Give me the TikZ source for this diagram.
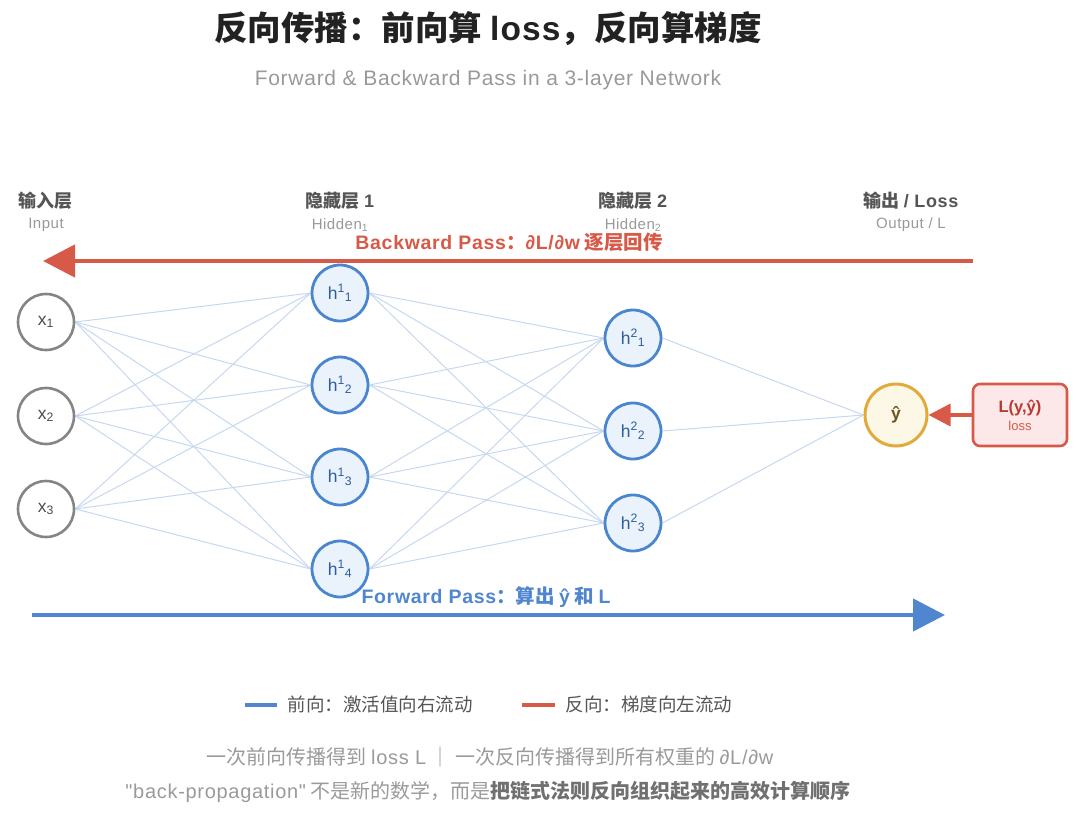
\documentclass[tikz,border=0pt]{standalone}
\usepackage{fontspec}
\setmainfont{Noto Sans CJK SC}
\newfontfamily\lat{Liberation Sans}[LetterSpace=3.5]
\newfontfamily\latn{Liberation Sans}
\newcommand{\LL}[1]{{\lat #1}}
\usetikzlibrary{arrows.meta,backgrounds}
\definecolor{nblue}{HTML}{4A86D0}
\definecolor{hfill}{HTML}{EAF2FC}
\definecolor{htext}{HTML}{2F5C9C}
\definecolor{edge}{HTML}{C6D8F0}
\definecolor{ngray}{HTML}{858585}
\definecolor{gold}{HTML}{E2AA3C}
\definecolor{ofill}{HTML}{FDF7E6}
\definecolor{otext}{HTML}{6B5524}
\definecolor{red}{HTML}{D65A47}
\definecolor{lfill}{HTML}{FCE8E8}
\definecolor{ltext}{HTML}{B83A30}
\definecolor{fblue}{HTML}{4F86CF}
\definecolor{titlec}{HTML}{222222}
\definecolor{labc}{HTML}{555555}
\definecolor{subc}{HTML}{999999}
\definecolor{footc}{HTML}{9A9A9A}
\definecolor{footb}{HTML}{707070}
\tikzset{
  inp/.style={circle, draw=ngray, line width=2.6, fill=white, minimum size=56, inner sep=0,
    font=\latn\fontsize{17.5}{17}\selectfont, text=labc!90!black},
  hid/.style={circle, draw=nblue, line width=2.8, fill=hfill, minimum size=56, inner sep=0,
    font=\latn\fontsize{17.5}{17}\selectfont, text=htext},
  outn/.style={circle, draw=gold, line width=3, fill=ofill, minimum size=62, inner sep=0,
    font=\latn\fontsize{17.5}{17}\selectfont\bfseries, text=otext},
  lossbox/.style={draw=red, line width=2.6, fill=lfill, rounded corners=7, minimum width=94,
    minimum height=62, inner sep=0, align=center},
  wedge/.style={draw=edge, line width=1},
  layt/.style={font=\fontsize{18}{18}\selectfont\bfseries, text=labc},
  lays/.style={font=\lat\fontsize{15}{15}\selectfont, text=subc},
  bigarrow/.style={line width=4.5, -{Triangle[length=32pt,width=32pt]}},
}
\begin{document}
\begin{tikzpicture}[x=1pt,y=-1pt]
\useasboundingbox (0,0) rectangle (1080,814);
% title
\node[font=\fontsize{33.5}{36}\selectfont\bfseries, text=titlec] (title) at (488,29) {反向传播：前向算 \LL{loss}，反向算梯度};
\node[font=\lat\fontsize{21}{22}\selectfont, text=subc] (subtitle) at (488,80) {Forward \& Backward Pass in a 3-layer Network};
% layer labels
\node[layt] (l0) at (46,201) {输入层};
\node[lays] (s0) at (46,225) {Input};
\node[layt] (l1) at (340,201) {隐藏层 \LL{1}};
\node[lays] (s1) at (340,225) {Hidden\textsubscript{1}};
\node[layt] (l2) at (633,201) {隐藏层 \LL{2}};
\node[lays] (s2) at (633,225) {Hidden\textsubscript{2}};
\node[layt] (l3) at (911,201) {输出 \LL{/ Loss}};
\node[lays] (s3) at (911,225) {Output / L};
% nodes
\node[inp] (x1) at (46,322) {x\textsubscript{1}};
\node[inp] (x2) at (46,416) {x\textsubscript{2}};
\node[inp] (x3) at (46,509) {x\textsubscript{3}};
\node[hid] (h11) at (340,293) {h\textsuperscript{1}\textsubscript{1}};
\node[hid] (h12) at (340,385) {h\textsuperscript{1}\textsubscript{2}};
\node[hid] (h13) at (340,477) {h\textsuperscript{1}\textsubscript{3}};
\node[hid] (h14) at (340,569) {h\textsuperscript{1}\textsubscript{4}};
\node[hid] (h21) at (633,338) {h\textsuperscript{2}\textsubscript{1}};
\node[hid] (h22) at (633,431) {h\textsuperscript{2}\textsubscript{2}};
\node[hid] (h23) at (633,523) {h\textsuperscript{2}\textsubscript{3}};
\node[outn] (y) at (896,415) {ŷ};
\node[lossbox] (loss) at (1020,415) {{\latn\fontsize{16.5}{18}\selectfont\bfseries\color{ltext}L(y,ŷ)}\\[4pt]{\latn\fontsize{13}{14}\selectfont\color{red}loss}};
% edges
\begin{scope}[on background layer]
\foreach \a in {x1,x2,x3}{\foreach \b in {h11,h12,h13,h14}{\draw[wedge] (\a.east) -- (\b.west);}}
\foreach \a in {h11,h12,h13,h14}{\foreach \b in {h21,h22,h23}{\draw[wedge] (\a.east) -- (\b.west);}}
\foreach \a in {h21,h22,h23}{\draw[wedge] (\a.east) -- (y.west);}
\end{scope}
\draw[line width=3.5, -{Triangle[length=22pt,width=22pt]}, color=red] (loss.west) -- (y.east);
% backward arrow
\coordinate (bs) at (973,261);
\coordinate (be) at (43,261);
\draw[bigarrow, color=red] (bs) -- (be);
\node[font=\fontsize{19.5}{19}\selectfont\bfseries, text=red] (blab) at (509,242) {\LL{Backward Pass}：\LL{∂L/∂w} 逐层回传};
% forward arrow
\coordinate (fs) at (32,615);
\coordinate (fe) at (945,615);
\draw[bigarrow, color=fblue] (fs) -- (fe);
\node[font=\fontsize{19.5}{19}\selectfont\bfseries, text=fblue] (flab) at (486,597) {\LL{Forward Pass}：算出 \LL{ŷ} 和 \LL{L}};
% legend
\coordinate (lb1) at (245,705); \coordinate (lb2) at (277,705);
\draw[line width=4, color=fblue] (lb1) -- (lb2);
\node[anchor=west, font=\fontsize{18.5}{18}\selectfont, text=labc] (leg1) at (284,704) {前向：激活值向右流动};
\coordinate (lr1) at (522,705); \coordinate (lr2) at (555,705);
\draw[line width=4, color=red] (lr1) -- (lr2);
\node[anchor=west, font=\fontsize{18.5}{18}\selectfont, text=labc] (leg2) at (562,704) {反向：梯度向左流动};
% footer
\node[font=\fontsize{20}{20}\selectfont, text=footc] (f1) at (490,757) {一次前向传播得到 \LL{loss L} ｜ 一次反向传播得到所有权重的 \LL{∂L/∂w}};
\node[font=\fontsize{20}{20}\selectfont, text=footc] (f2) at (488,792) {\LL{\symbol{34}back-propagation\symbol{34}} 不是新的数学，而是{\bfseries\color{footb}把链式法则反向组织起来的高效计算顺序}};
\end{tikzpicture}
\end{document}
